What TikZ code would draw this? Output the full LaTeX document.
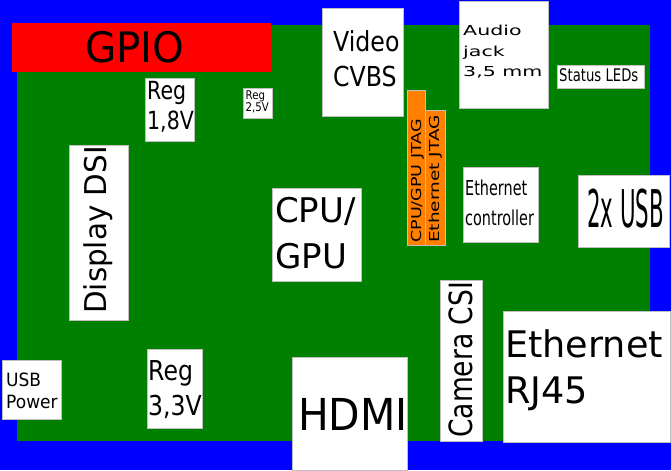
\documentclass[tikz,border=0pt]{standalone}
\usepackage{fontspec}
\setmainfont{DejaVu Sans}
\usepackage{graphicx}

\definecolor{pcbgreen}{RGB}{0,128,0}
\definecolor{bgblue}{RGB}{0,0,255}
\definecolor{jtagorange}{RGB}{255,128,0}

% squeeze or stretch a label sideways
\newcommand{\sq}[2]{\scalebox{#1}[1]{#2}}
\newcommand{\fsz}[2]{\fontsize{#1}{#2}\selectfont}

\tikzset{
  part/.style={fill=white,draw=gray!50,line width=0.5pt},
  jtag/.style={fill=jtagorange,draw=gray!50,line width=0.5pt},
  lbl/.style={inner sep=0pt,anchor=base west}
}

\begin{document}
\begin{tikzpicture}[x=1pt,y=-1pt]

\fill[bgblue] (0,0) rectangle (671,470);
\fill[pcbgreen] (17,25) rectangle (650,441);
\fill[red] (12,23) rectangle (271,72);

\foreach \xa/\ya/\xb/\yb in {145/78/194/141, 243/88/272/118, 69/145/128/320,
    322/8/403/116, 459/1/548/108, 557/65/644/88, 463/167/538/242,
    578/175/669/247, 272/188/361/281, 292/357/407/470, 440/280/482/441,
    503/311/670/442, 2/360/61/419, 147/349/202/428}
    \filldraw[part] (\xa,\ya) rectangle (\xb,\yb);

\filldraw[jtag] (407.5,90.5) rectangle (425.5,245);
\filldraw[jtag] (425.5,110.5) rectangle (445,245);

\node[lbl,font=\fsz{42}{50}] (gpio) at (85,62.3) {\sq{0.96}{GPIO}};
\node[lbl,font=\fsz{25}{30}] (reg18) at (147,100)
    {\vtop{\hbox{\sq{0.82}{Reg}}\hbox{\sq{0.82}{1,8V}}}};
\node[lbl,font=\fsz{12}{11.4}] (reg25) at (245.5,99.3)
    {\vtop{\hbox{\sq{0.85}{Reg}}\hbox{\sq{0.85}{2,5V}}}};
\node[lbl,font=\fsz{27.5}{35}] (video) at (333,52)
    {\vtop{\hbox{\sq{0.86}{Video}}\hbox{\sq{0.86}{CVBS}}}};
\node[lbl,font=\fsz{13.7}{20.5}] (audio) at (463,36)
    {\vtop{\hbox{\sq{1.5}{Audio}}\hbox{\sq{1.5}{jack}}\hbox{\sq{1.5}{3,5 mm}}}};
\node[lbl,font=\fsz{17.4}{20}] (leds) at (559,82) {\sq{0.76}{Status LEDs}};
\node[lbl,font=\fsz{20.6}{30}] (ethctrl) at (465,195)
    {\vtop{\hbox{\sq{0.7}{Ethernet}}\hbox{\sq{0.7}{controller}}}};
\node[lbl,font=\fsz{52}{60}] (usb) at (587,227) {\sq{0.41}{2x USB}};
\node[lbl,font=\fsz{34}{46}] (cpu) at (275,222)
    {\vtop{\hbox{CPU/}\hbox{GPU}}};
\node[lbl,font=\fsz{44}{50}] (hdmi) at (298,430) {\sq{0.93}{HDMI}};
\node[lbl,font=\fsz{36.6}{46}] (rj45) at (505,357)
    {\vtop{\hbox{Ethernet}\hbox{RJ45}}};
\node[lbl,font=\fsz{18.3}{22}] (usbpwr) at (6,386)
    {\vtop{\hbox{\sq{0.93}{USB}}\hbox{\sq{0.93}{Power}}}};
\node[lbl,font=\fsz{27.4}{35}] (reg33) at (148,380)
    {\vtop{\hbox{\sq{0.86}{Reg}}\hbox{\sq{0.86}{3,3V}}}};

% rotated labels
\node[lbl,rotate=90,font=\fsz{30}{36}] (dsi) at (106,314) {\sq{0.98}{Display DSI}};
\node[lbl,rotate=90,font=\fsz{13.7}{16}] (cpujtag) at (421,243) {\sq{1.28}{CPU/GPU JTAG}};
\node[lbl,rotate=90,font=\fsz{13.7}{16}] (ethjtag) at (439,243) {\sq{1.35}{Ethernet JTAG}};
\node[lbl,rotate=90,font=\fsz{32}{38}] (csi) at (472,438) {\sq{0.83}{Camera CSI}};

\end{tikzpicture}
\end{document}
